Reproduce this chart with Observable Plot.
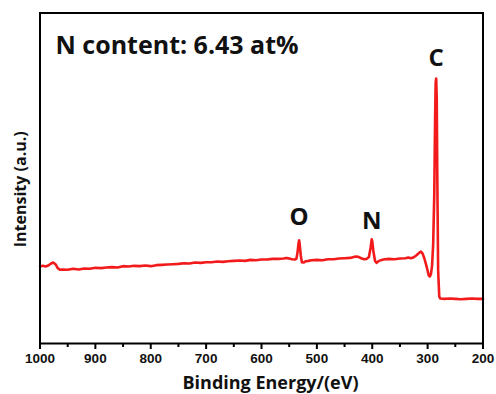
<!DOCTYPE html>
<html>
<head>
<meta charset="utf-8">
<script src="https://cdn.jsdelivr.net/npm/d3@7"></script>
<script src="https://cdn.jsdelivr.net/npm/@observablehq/plot@0.6"></script>
<style>
  html, body { margin: 0; padding: 0; background: #fff; }
</style>
</head>
<body>
<div id="chart"></div>
<script>
// Binding energy (eV)
const energy = [1000, 995, 990, 985, 980, 976, 972, 968, 964, 960, 950, 940, 930, 920, 910, 900, 890, 880, 870, 860, 850, 840, 830, 820, 810, 800, 790, 780, 770, 760, 750, 740, 730, 720, 710, 700, 690, 680, 670, 660, 650, 640, 630, 620, 610, 600, 590, 580, 570, 560, 555, 550, 545, 540, 537, 535, 533, 532, 531, 529, 527, 524, 520, 515, 510, 500, 490, 480, 470, 460, 450, 440, 430, 425, 420, 415, 410, 406, 403, 401, 400, 398, 395, 392, 388, 380, 370, 360, 350, 340, 335, 330, 325, 320, 315, 312, 309, 306, 303, 300, 298, 296, 294, 292, 290, 288, 286.5, 285.5, 284.5, 283.5, 282.5, 281, 279, 277, 270, 260, 250, 240, 230, 220, 210, 200];
// Intensity (a.u.)
const intensity = [23.3, 23.5, 23.3, 23.6, 24.2, 24.5, 24.0, 22.8, 22.3, 22.4, 22.3, 22.6, 22.4, 22.7, 22.6, 22.9, 22.8, 23.0, 23.1, 23.0, 23.4, 23.3, 23.5, 23.4, 23.6, 23.4, 23.7, 23.8, 23.9, 24.0, 24.1, 24.3, 24.2, 24.5, 24.4, 24.6, 24.6, 24.8, 24.7, 24.9, 25.0, 25.1, 25.0, 25.3, 25.2, 25.4, 25.4, 25.6, 25.6, 25.7, 25.9, 25.7, 25.5, 25.4, 25.6, 27.5, 30.5, 31.2, 30.0, 26.5, 24.6, 24.5, 24.9, 25.0, 25.2, 25.3, 25.2, 25.5, 25.5, 25.7, 25.8, 25.9, 26.3, 26.2, 25.8, 25.5, 25.6, 26.2, 29.0, 31.5, 31.0, 28.0, 25.0, 24.4, 25.0, 25.4, 25.6, 25.5, 25.7, 25.8, 26.0, 25.8, 26.1, 26.7, 27.5, 27.8, 27.2, 25.8, 24.0, 22.0, 20.6, 20.3, 21.0, 23.5, 30.0, 45.0, 68.0, 79.0, 80.2, 74.0, 50.0, 22.0, 14.2, 13.6, 13.5, 13.6, 13.5, 13.4, 13.5, 13.6, 13.5, 13.5];

const majorTicks = [1000, 900, 800, 700, 600, 500, 400, 300, 200];
const minorTicks = [950, 850, 750, 650, 550, 450, 350, 250];

const peakLabels = ["O", "N", "C"];
const peakEnergy = [532, 401, 284.5];
const peakIntensity = [31.2, 31.5, 80.2];

const titleText = "N content: 6.43 at%";
const xTitle = "Binding Energy/(eV)";
const yTitle = "Intensity (a.u.)";

const spectrum = energy.map((e, i) => ({energy: e, intensity: intensity[i]}));
const peaks = peakLabels.map((l, i) => ({label: l, energy: peakEnergy[i], intensity: peakIntensity[i]}));
const peakDy = {O: -23, N: -18, C: -20};

const titleFont = "'Open Sans', 'Noto Sans', sans-serif";
const W = 496, H = 394, mT = 12.5, mB = 51;

const chart = Plot.plot({
  width: W,
  height: H,
  marginLeft: 39.5,
  marginRight: 13.5,
  marginTop: mT,
  marginBottom: mB,
  style: {fontFamily: "'Liberation Sans', Arial, sans-serif", background: "#fff"},
  x: {domain: [1000, 200]},
  y: {domain: [0, 100], axis: null},
  marks: [
    Plot.line(spectrum, {x: "energy", y: "intensity", stroke: "#f21a1a", strokeWidth: 2.6, strokeLinejoin: "round"}),
    Plot.frame({stroke: "#000", strokeWidth: 2}),
    Plot.axisX({ticks: majorTicks, tickSize: 6, tickPadding: 4, tickFormat: d => String(d), stroke: "#000", strokeWidth: 2, fill: "#111", fontSize: 13.5, fontWeight: "bold", label: null}),
    Plot.axisX({ticks: minorTicks, tickSize: 4, tickFormat: () => "", stroke: "#000", strokeWidth: 2, label: null}),
    ...peaks.map(p => Plot.text([p], {x: "energy", y: "intensity", text: "label", dy: peakDy[p.label], fontSize: 24, fontWeight: "bold", fontFamily: titleFont, fill: "#111"})),
    Plot.text([titleText], {frameAnchor: "top-left", text: d => d, dx: 15.5, dy: 33, lineAnchor: "middle", textAnchor: "start", fontSize: 25, fontWeight: "bold", fontFamily: titleFont, fill: "#111"}),
    Plot.text([xTitle], {frameAnchor: "bottom", text: d => d, dx: 9, dy: 39.5, lineAnchor: "middle", fontSize: 18, fontWeight: "bold", fontFamily: titleFont, fill: "#111"}),
    Plot.text([yTitle], {frameAnchor: "left", text: d => d, rotate: -90, dx: -19.5, dy: 11, lineAnchor: "middle", textAnchor: "middle", fontSize: 16, fontWeight: "bold", fontFamily: titleFont, fill: "#111"})
  ]
});
document.getElementById("chart").appendChild(chart);
</script>
</body>
</html>
